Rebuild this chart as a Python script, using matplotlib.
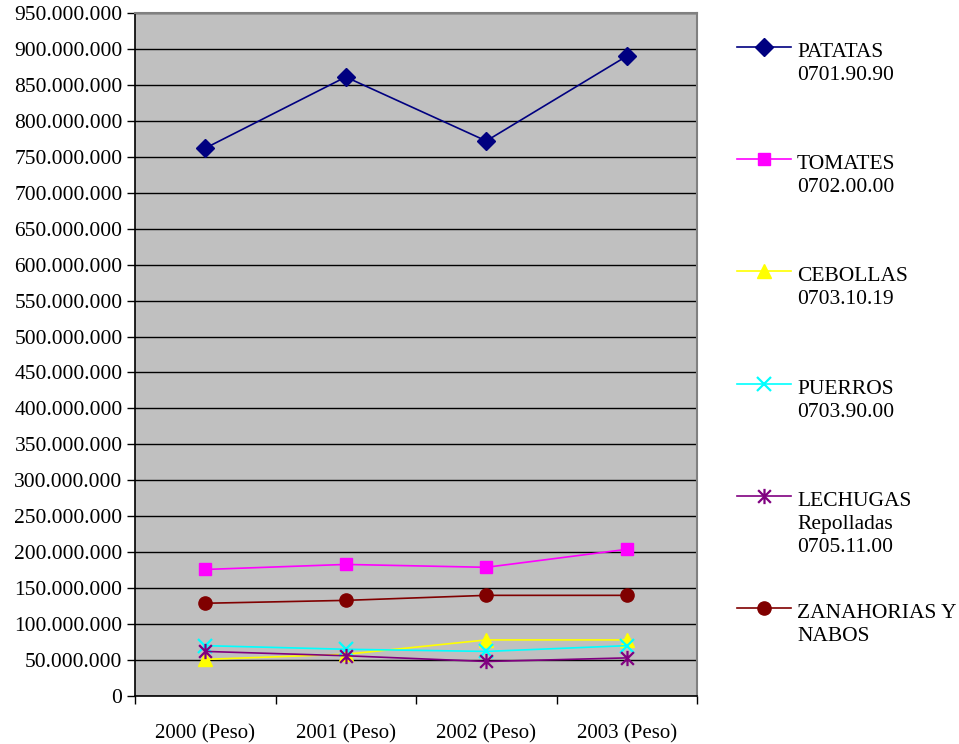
import matplotlib
matplotlib.use("Agg")
import matplotlib.pyplot as plt
from matplotlib.lines import Line2D
from matplotlib.path import Path
from matplotlib.ticker import FuncFormatter, MultipleLocator

plt.rcParams["font.family"] = ["Liberation Serif", "DejaVu Serif"]

years = ["2000 (Peso)", "2001 (Peso)", "2002 (Peso)", "2003 (Peso)"]

# values in kg
patatas = [762e6, 861e6, 772e6, 890e6]
tomates = [176e6, 183e6, 179e6, 204e6]
cebollas = [51e6, 58e6, 78e6, 78e6]
puerros = [70e6, 65e6, 62e6, 70e6]
lechugas = [62e6, 56e6, 48e6, 53e6]
zanahorias = [129e6, 133e6, 140e6, 140e6]

# excel style star: an x with a vertical bar
star = Path([(-1, -1), (1, 1), (-1, 1), (1, -1), (0, -1.2), (0, 1.2)],
            [Path.MOVETO, Path.LINETO, Path.MOVETO, Path.LINETO, Path.MOVETO, Path.LINETO])

series = [
    ("PATATAS\n0701.90.90", patatas, "#000080", "D", 9),
    ("TOMATES\n0702.00.00", tomates, "#FF00FF", "s", 8.5),
    ("CEBOLLAS\n0703.10.19", cebollas, "#FFFF00", "^", 10),
    ("PUERROS\n0703.90.00", puerros, "#00FFFF", "x", 9.5),
    ("LECHUGAS\nRepolladas\n0705.11.00", lechugas, "#800080", star, 11),
    ("ZANAHORIAS Y\nNABOS", zanahorias, "#800000", "o", 9.5),
]

W, H = 959, 744
fig = plt.figure(figsize=(W / 100, H / 100), dpi=100)
ax = fig.add_axes([135 / W, 1 - 696 / H, (697 - 135) / W, (696 - 13) / H])
ax.set_facecolor("#C0C0C0")

x = range(len(years))
for label, vals, col, mk, ms in series:
    thin = not (isinstance(mk, str) and mk == "x") and mk is not star
    ax.plot(x, vals, color=col, lw=1.2, marker=mk, markersize=ms,
            markerfacecolor=col, markeredgecolor=col, markeredgewidth=1 if thin else 1.6,
            clip_on=False, zorder=3)

ax.set_xlim(-0.5, 3.5)
ax.set_ylim(0, 950e6)
ax.yaxis.set_major_locator(MultipleLocator(50e6))
ax.yaxis.set_major_formatter(FuncFormatter(lambda v, p: f"{int(round(v)):,}".replace(",", ".")))
ax.set_xticks([-0.5, 0.5, 1.5, 2.5, 3.5])
ax.set_xticklabels([])
ax.set_xticks(list(x), minor=True)
ax.set_xticklabels(years, minor=True)
ax.tick_params(axis="x", which="minor", length=0, pad=20, labelsize=15)
ax.tick_params(axis="x", which="major", direction="out", length=6, width=1)
ax.tick_params(axis="y", direction="out", length=6, width=1, labelsize=15.5, pad=3)
ax.yaxis.grid(True, color="black", lw=1)
ax.set_axisbelow(True)
for s in ("top", "right"):
    ax.spines[s].set_color("#808080")
    ax.spines[s].set_linewidth(1.5)
for s in ("left", "bottom"):
    ax.spines[s].set_color("black")
    ax.spines[s].set_linewidth(1.2)

# legend drawn by hand in figure pixels
leg_y = [47, 159, 271, 384, 496, 608]
for (label, vals, col, mk, ms), yy in zip(series, leg_y):
    yf = 1 - yy / H
    thin = not (isinstance(mk, str) and mk == "x") and mk is not star
    fig.add_artist(Line2D([737 / W, 764 / W, 791 / W], [yf, yf, yf], color=col, lw=1.2,
                          marker=mk, markersize=ms, markevery=[1], markerfacecolor=col,
                          markeredgecolor=col, markeredgewidth=1 if thin else 1.6,
                          transform=fig.transFigure))
    fig.text(797 / W, yf + 4 / H, label, fontsize=15.5, va="top", ha="left", linespacing=1.27)

fig.savefig("out.png", dpi=100)
